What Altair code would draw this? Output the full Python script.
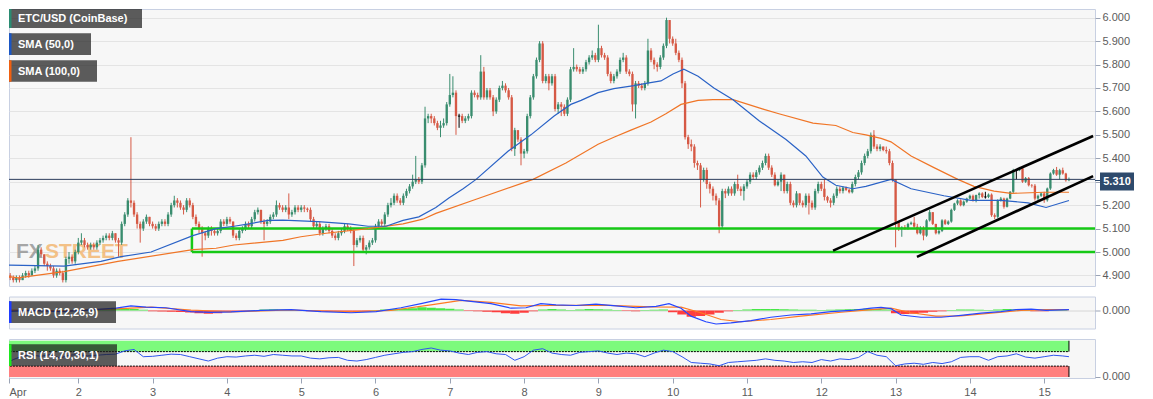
import altair as alt
import pandas as pd

# ---------------------------------------------------------------- data
# hourly ETC/USD candles; hour 0 = 1 Apr 00:00, first candle at 02:00
FIRST_OPEN = 4.90
CLOSE = [
    [4.89,4.88,4.89,4.88,4.90,4.91,4.90,4.92,4.93,5.01,4.99,4.95,4.94,4.93,4.90,4.92,4.91,4.88,4.97,4.98,4.96,5.00],
    [5.04,5.05,5.03,5.02,5.03,5.02,5.04,5.05,5.06,5.07,5.06,5.08,5.05,5.04,5.12,5.16,5.22,5.21,5.16,5.12,5.10,5.13,5.15,5.12],
    [5.11,5.10,5.12,5.13,5.12,5.16,5.20,5.22,5.21,5.19,5.18,5.22,5.20,5.15,5.12,5.10,5.08,5.07,5.10,5.09,5.08,5.09,5.13,5.12],
    [5.14,5.13,5.07,5.06,5.09,5.10,5.12,5.11,5.14,5.17,5.18,5.13,5.12,5.13,5.15,5.16,5.20,5.19,5.18,5.19,5.16,5.17,5.19,5.18],
    [5.19,5.185,5.18,5.14,5.11,5.12,5.08,5.10,5.11,5.09,5.07,5.06,5.08,5.09,5.11,5.10,5.09,5.03,5.05,5.06,5.01,5.02,5.04,5.05],
    [5.11,5.13,5.12,5.16,5.20,5.21,5.24,5.22,5.21,5.24,5.26,5.28,5.30,5.31,5.30,5.37,5.57,5.58,5.57,5.55,5.53,5.54,5.55,5.63],
    [5.67,5.68,5.58,5.58,5.56,5.57,5.58,5.68,5.67,5.66,5.77,5.66,5.69,5.66,5.60,5.65,5.70,5.71,5.69,5.66,5.44,5.52,5.48,5.42],
    [5.43,5.58,5.66,5.75,5.82,5.89,5.73,5.75,5.72,5.75,5.61,5.63,5.62,5.59,5.65,5.78,5.79,5.78,5.77,5.78,5.81,5.83,5.84,5.82],
    [5.87,5.84,5.83,5.76,5.73,5.75,5.77,5.82,5.83,5.77,5.76,5.63,5.72,5.71,5.70,5.72,5.86,5.82,5.80,5.79,5.83,5.88,5.99,5.91],
    [5.89,5.85,5.82,5.72,5.49,5.46,5.45,5.38,5.37,5.31,5.35,5.29,5.27,5.24,5.22,5.11,5.26,5.25,5.27,5.25,5.29,5.27,5.26,5.28],
    [5.30,5.33,5.32,5.34,5.36,5.38,5.41,5.36,5.33,5.285,5.30,5.33,5.26,5.29,5.21,5.20,5.25,5.21,5.20,5.24,5.21,5.19,5.26,5.29],
    [5.27,5.235,5.22,5.21,5.24,5.27,5.26,5.275,5.265,5.255,5.29,5.32,5.34,5.38,5.41,5.43,5.50,5.45,5.44,5.45,5.435,5.43,5.38,5.31],
    [5.13,5.10,5.105,5.10,5.12,5.125,5.108,5.08,5.10,5.07,5.135,5.17,5.12,5.08,5.09,5.135,5.12,5.13,5.18,5.207,5.22,5.20,5.215,5.228],
    [5.24,5.22,5.243,5.25,5.235,5.235,5.245,5.157,5.15,5.221,5.228,5.193,5.228,5.257,5.349,5.349,5.357,5.30,5.315,5.285,5.283,5.228,5.24,5.25],
    [5.221,5.271,5.335,5.35,5.33,5.349,5.335,5.306,5.31],
]
HIGH = [
    [4.91,4.90,4.90,4.90,4.91,4.92,4.92,4.93,4.94,5.03,5.02,4.99,4.96,4.95,4.94,4.93,4.93,4.92,4.98,5.00,4.99,5.01],
    [5.06,5.08,5.06,5.04,5.04,5.04,5.05,5.06,5.07,5.08,5.08,5.09,5.08,5.06,5.13,5.17,5.23,5.49,5.22,5.17,5.13,5.14,5.16,5.15],
    [5.13,5.12,5.13,5.14,5.14,5.17,5.21,5.24,5.23,5.22,5.20,5.23,5.23,5.21,5.16,5.13,5.11,5.09,5.11,5.11,5.10,5.10,5.14,5.14],
    [5.15,5.15,5.13,5.08,5.10,5.11,5.13,5.13,5.15,5.18,5.19,5.18,5.14,5.14,5.16,5.17,5.22,5.21,5.20,5.20,5.25,5.18,5.20,5.20],
    [5.20,5.20,5.19,5.19,5.15,5.13,5.13,5.11,5.12,5.12,5.10,5.08,5.09,5.10,5.12,5.12,5.11,5.10,5.06,5.07,5.07,5.03,5.05,5.06],
    [5.12,5.14,5.14,5.17,5.21,5.23,5.25,5.25,5.23,5.25,5.27,5.29,5.33,5.41,5.32,5.38,5.62,5.59,5.59,5.58,5.56,5.56,5.57,5.64],
    [5.76,5.75,5.69,5.59,5.59,5.58,5.59,5.69,5.69,5.68,5.84,5.79,5.70,5.70,5.67,5.66,5.71,5.73,5.72,5.70,5.67,5.53,5.52,5.49],
    [5.44,5.59,5.67,5.76,5.83,5.90,5.90,5.76,5.76,5.76,5.76,5.64,5.64,5.63,5.66,5.79,5.87,5.80,5.79,5.79,5.82,5.84,5.86,5.85],
    [5.97,5.88,5.85,5.84,5.77,5.76,5.78,5.83,5.85,5.84,5.78,5.77,5.73,5.73,5.72,5.73,5.91,5.87,5.83,5.81,5.84,5.89,6.00,5.99],
    [5.92,5.91,5.86,5.83,5.73,5.50,5.48,5.46,5.39,5.38,5.36,5.36,5.30,5.28,5.25,5.23,5.27,5.27,5.28,5.28,5.30,5.33,5.28,5.29],
    [5.31,5.34,5.34,5.35,5.37,5.39,5.42,5.42,5.37,5.34,5.31,5.34,5.33,5.30,5.30,5.22,5.26,5.25,5.22,5.25,5.25,5.22,5.27,5.30],
    [5.30,5.31,5.24,5.23,5.25,5.28,5.28,5.28,5.28,5.27,5.30,5.33,5.35,5.39,5.42,5.44,5.51,5.52,5.46,5.46,5.45,5.45,5.44,5.39],
    [5.31,5.13,5.11,5.115,5.125,5.13,5.15,5.12,5.11,5.11,5.14,5.18,5.17,5.12,5.10,5.14,5.14,5.135,5.185,5.21,5.225,5.225,5.22,5.232],
    [5.245,5.245,5.245,5.255,5.255,5.257,5.25,5.25,5.165,5.225,5.235,5.232,5.232,5.26,5.355,5.355,5.363,5.36,5.32,5.32,5.29,5.29,5.245,5.255],
    [5.257,5.275,5.34,5.355,5.363,5.355,5.36,5.338,5.318],
]
LOW = [
    [4.88,4.87,4.87,4.87,4.88,4.89,4.89,4.90,4.91,4.92,4.98,4.94,4.92,4.92,4.89,4.89,4.90,4.87,4.87,4.95,4.95,4.95],
    [4.99,5.03,5.02,5.01,5.01,5.01,5.01,5.03,5.04,5.05,5.05,5.05,5.04,4.98,5.03,5.11,5.15,5.19,5.15,5.10,5.04,5.09,5.12,5.11],
    [5.10,5.09,5.09,5.11,5.11,5.11,5.15,5.19,5.19,5.18,5.16,5.17,5.19,5.14,5.11,5.08,4.98,5.05,5.06,5.07,5.07,5.07,5.08,5.11],
    [5.11,5.12,5.06,5.05,5.05,5.08,5.09,5.10,5.10,5.13,5.16,5.12,5.05,5.11,5.12,5.14,5.15,5.18,5.17,5.17,5.14,5.15,5.16,5.17],
    [5.17,5.17,5.17,5.13,5.10,5.10,5.07,5.07,5.09,5.08,5.06,5.05,5.05,5.07,5.08,5.09,5.08,4.94,5.02,5.04,5.00,4.99,5.01,5.03],
    [5.04,5.10,5.11,5.11,5.15,5.19,5.20,5.21,5.20,5.20,5.23,5.25,5.27,5.29,5.29,5.29,5.36,5.55,5.55,5.54,5.52,5.49,5.53,5.54],
    [5.62,5.66,5.50,5.53,5.55,5.55,5.56,5.57,5.66,5.65,5.65,5.65,5.65,5.65,5.58,5.59,5.64,5.69,5.68,5.65,5.43,5.41,5.47,5.37],
    [5.40,5.42,5.57,5.65,5.74,5.81,5.72,5.72,5.69,5.71,5.60,5.59,5.58,5.58,5.58,5.64,5.77,5.77,5.76,5.76,5.77,5.80,5.82,5.81],
    [5.81,5.83,5.82,5.75,5.72,5.72,5.74,5.76,5.81,5.76,5.75,5.60,5.57,5.70,5.69,5.69,5.71,5.81,5.78,5.77,5.78,5.82,5.87,5.89],
    [5.88,5.84,5.81,5.70,5.48,5.44,5.43,5.36,5.35,5.19,5.30,5.27,5.25,5.22,5.20,5.08,5.10,5.23,5.24,5.24,5.24,5.26,5.24,5.22],
    [5.27,5.29,5.31,5.31,5.33,5.35,5.37,5.35,5.32,5.28,5.28,5.26,5.25,5.25,5.20,5.19,5.19,5.20,5.19,5.19,5.16,5.18,5.18,5.25],
    [5.26,5.22,5.21,5.19,5.20,5.23,5.25,5.25,5.26,5.25,5.25,5.28,5.31,5.33,5.37,5.40,5.42,5.44,5.43,5.43,5.43,5.42,5.37,5.30],
    [5.02,5.09,5.065,5.095,5.095,5.115,5.10,5.075,5.075,5.05,5.065,5.13,5.115,5.075,5.075,5.085,5.115,5.115,5.125,5.175,5.20,5.195,5.195,5.21],
    [5.225,5.215,5.212,5.228,5.23,5.228,5.23,5.15,5.14,5.145,5.215,5.185,5.19,5.225,5.25,5.31,5.345,5.295,5.295,5.28,5.275,5.22,5.222,5.235],
    [5.21,5.215,5.265,5.33,5.325,5.31,5.33,5.30,5.302],
]
LAST_PRICE = 5.31

# moving averages (hour, value)
SMA50_H = [-1,19.4,31.3,37.8,47.5,61,68.5,74.3,79.1,85.3,90.1,101.4,111.4,117.6,123.4,128.9,134,139.5,143.7,148.3,152.5,
           162.8,170.2,177.7,183.1,186.4,191.9,197,203.5,207.4,212.2,216.1,219.6,224.2,229.3,235.5,243.9,252.6,259,264.5,
           268.7,274.2,278.4,286.5,293,303.6,312.3,322,330.8,336.6,344]
SMA50_V = [4.945,4.94,4.96,4.98,5.00,5.07,5.10,5.11,5.12,5.135,5.136,5.13,5.12,5.11,5.11,5.135,5.15,5.19,5.23,5.27,5.31,
           5.43,5.50,5.58,5.63,5.647,5.68,5.697,5.71,5.72,5.73,5.76,5.78,5.75,5.70,5.65,5.56,5.48,5.41,5.32,
           5.285,5.27,5.28,5.31,5.27,5.24,5.22,5.22,5.21,5.19,5.22]
SMA100_H = [-1,4.5,19.4,36.8,61,68.5,74.3,90.1,95.9,104,117.6,128.9,135.3,139.5,152.5,170.9,181.5,191.9,197,202.5,209,
            213.8,218.7,224.2,229,235.5,245.2,250.3,261.3,268.7,274.2,278.4,283.3,286.5,293,300.4,308.1,313.3,319.8,325.3,335.9,344]
SMA100_V = [4.90,4.89,4.916,4.96,5.01,5.016,5.03,5.05,5.065,5.08,5.10,5.12,5.14,5.165,5.225,5.31,5.38,5.46,5.49,5.52,5.555,
            5.59,5.63,5.647,5.65,5.65,5.61,5.59,5.55,5.54,5.51,5.50,5.485,5.47,5.41,5.36,5.31,5.28,5.26,5.25,5.255,5.255]

# drawn objects (hour, price)
CHANNEL = [(267.8, 5.006, 351.8, 5.495), (294.9, 4.979, 351.8, 5.324)]
ZONE_LEFT, ZONE_TOP, ZONE_BOTTOM = 60.7, 5.10, 5.00

# MACD (12,26,9)
MACD_H = [-1,8.7,18.4,28.1,36.2,41,45.9,52.3,60.4,66.9,73.3,83,92.7,102.4,112.1,120.2,128.2,134.7,141.2,146,150.8,157.3,
          163.8,168.6,173.4,178.3,184.8,191.2,197.7,204.1,210.6,214.8,218.7,221.9,226.7,230,234.8,241.3,247.7,254.2,260.7,
          267.1,273.6,280.1,283.3,286.5,289.8,296.2,302.7,309.1,315.6,322,326.9,331.8,336.6,344]
MACD_V = [-0.005,0.0,-0.005,0.003,0.01,0.02,0.015,0.012,-0.005,-0.008,-0.006,0.0,0.004,-0.005,-0.01,-0.005,0.012,0.03,0.05,
          0.048,0.04,0.03,0.01,0.012,0.03,0.025,0.022,0.028,0.02,0.012,0.018,0.03,0.01,-0.025,-0.05,-0.06,-0.055,-0.045,-0.03,
          -0.02,-0.015,-0.005,0.0,0.01,0.014,0.008,-0.02,-0.03,-0.03,-0.022,-0.012,-0.005,0.004,0.006,0.0,0.004]
SIGNAL_H = [-1,18.4,37.8,47.5,60.4,73.3,92.7,112.1,125,137.9,147.6,157.3,167,176.7,192.9,209,218.7,225.1,231.6,238,247.7,
            257.4,270.4,280.1,286.5,293,301,309.1,318.8,328.5,336.6,344]
SIGNAL_V = [0.002,-0.002,0.008,0.015,0.002,-0.006,0.002,-0.006,0.0,0.025,0.045,0.036,0.02,0.022,0.024,0.016,0.015,-0.01,
            -0.04,-0.05,-0.04,-0.025,-0.008,0.004,0.01,-0.01,-0.025,-0.024,-0.012,0.0,0.004,0.004]
HIST = [  # every 3 hours from hour 0
    0.002,-0.002,-0.003,0.002,0.003,-0.002,-0.004,0.002,
    0.003,0.002,0.003,0.004,0.006,0.008,0.006,0.003,
    -0.003,-0.005,-0.006,-0.007,-0.009,-0.012,-0.014,-0.012,
    -0.008,-0.005,-0.002,0.002,0.004,0.005,0.004,0.002,
    -0.002,-0.004,-0.005,-0.006,-0.005,-0.006,-0.007,-0.005,
    0.002,0.004,0.006,0.008,0.01,0.014,0.012,0.01,
    0.008,0.004,-0.002,-0.004,-0.006,-0.008,-0.012,-0.014,
    -0.01,-0.004,0.004,0.006,0.004,0.002,0.004,0.006,
    0.005,0.004,0.002,-0.002,-0.003,0.002,0.003,0.004,
    -0.008,-0.018,-0.028,-0.024,-0.018,-0.01,-0.004,0.002,
    0.004,0.006,0.007,0.006,0.005,0.004,0.003,0.003,
    0.002,0.003,0.004,0.005,0.006,0.008,0.006,0.004,
    -0.012,-0.016,-0.014,-0.01,-0.006,-0.003,0.002,0.004,
    0.004,0.003,0.002,0.004,0.006,0.004,0.002,-0.003,
    -0.003,0.002,0.002,
]
# RSI (14) every 3 hours from hour 0
RSI = [
    34,48,58,60,57,62,52,60,
    62,58,60,62,63,72,76,56,
    57,60,63,62,56,50,44,52,
    56,55,58,60,57,62,60,58,
    58,52,50,53,54,46,44,48,
    54,60,64,68,70,76,80,74,
    72,66,62,68,70,64,62,46,
    56,74,78,66,62,60,68,70,
    72,66,62,66,64,56,66,74,
    70,56,40,38,36,31,40,42,
    44,46,50,46,44,40,42,40,
    48,44,50,48,54,70,60,56,
    31,36,38,35,40,37,42,54,
    56,56,46,56,58,64,55,52,
    56,60,58,
]
RSI_LAST = 56

# ---------------------------------------------------------------- styling
FONT = "Liberation Sans, Arial, Helvetica, sans-serif"
GREEN, RED = "#3a8d6f", "#d65a46"
W = 1086
XS = alt.Scale(domain=[1.615, 352.41], nice=False, zero=False)
YS = alt.Scale(domain=[4.8549, 6.0371], nice=False, zero=False)
YAX = alt.Axis(orient="right", values=[round(4.9 + 0.1 * i, 1) for i in range(12)], format=".3f",
               grid=True, gridColor="#e4e4e4", title=None)

rows = []
prev = FIRST_OPEN
for d in range(15):
    start = 2 if d == 0 else 0
    for j, (c, hi, lo) in enumerate(zip(CLOSE[d], HIGH[d], LOW[d])):
        h = d * 24 + start + j
        o = prev
        col = GREEN if c > o else (RED if c < o else "#000000")
        rows.append(dict(h=h, x1=h - 0.38, x2=h + 0.38, o=o, c=c,
                         hi=max(hi, o, c), lo=min(lo, o, c), col=col, flat=(c == o)))
        prev = c
candles = pd.DataFrame(rows)

base = alt.Chart(candles)
wicks = base.mark_rule(strokeWidth=1, clip=True).encode(
    x=alt.X("h:Q", scale=XS, axis=None),
    y=alt.Y("lo:Q", scale=YS, axis=YAX), y2="hi:Q",
    color=alt.Color("col:N", scale=None))
bodies = base.mark_rect(clip=True).encode(
    x=alt.X("x1:Q", scale=XS, axis=None), x2="x2:Q",
    y=alt.Y("o:Q", scale=YS, axis=YAX), y2="c:Q",
    color=alt.Color("col:N", scale=None))
dojis = base.transform_filter("datum.flat").mark_rule(color="black", strokeWidth=1, clip=True).encode(
    x=alt.X("x1:Q", scale=XS, axis=None), x2="x2:Q", y=alt.Y("c:Q", scale=YS, axis=YAX))

sma50 = alt.Chart(pd.DataFrame({"h": SMA50_H, "v": SMA50_V})).mark_line(
    color="#2a62c6", strokeWidth=1.2, clip=True).encode(
    x=alt.X("h:Q", scale=XS, axis=None), y=alt.Y("v:Q", scale=YS, axis=YAX))
sma100 = alt.Chart(pd.DataFrame({"h": SMA100_H, "v": SMA100_V})).mark_line(
    color="#f07526", strokeWidth=1.2, clip=True).encode(
    x=alt.X("h:Q", scale=XS, axis=None), y=alt.Y("v:Q", scale=YS, axis=YAX))

zone = pd.DataFrame({"x1": [ZONE_LEFT, ZONE_LEFT, ZONE_LEFT], "x2": [400, 400, ZONE_LEFT],
                     "y1": [ZONE_TOP, ZONE_BOTTOM, ZONE_BOTTOM], "y2": [ZONE_TOP, ZONE_BOTTOM, ZONE_TOP]})
zone_l = alt.Chart(zone).mark_rule(color="#16c916", strokeWidth=2.5, clip=True).encode(
    x=alt.X("x1:Q", scale=XS, axis=None), x2="x2:Q",
    y=alt.Y("y1:Q", scale=YS, axis=YAX), y2="y2:Q")

chan = pd.DataFrame(CHANNEL, columns=["x1", "y1", "x2", "y2"])
chan_l = alt.Chart(chan).mark_rule(color="black", strokeWidth=2.6, clip=True).encode(
    x=alt.X("x1:Q", scale=XS, axis=None), x2="x2:Q",
    y=alt.Y("y1:Q", scale=YS, axis=YAX), y2="y2:Q")

price_line = alt.Chart(pd.DataFrame({"p": [LAST_PRICE]})).mark_rule(color="#2b3d5c", strokeWidth=1).encode(
    y=alt.Y("p:Q", scale=YS, axis=YAX))

one = pd.DataFrame({"t": ["5.310"]})
tag_rect = alt.Chart(one).mark_rect(fill="#2e4a6c").encode(
    x=alt.value(W + 5), x2=alt.value(W + 39), y=alt.value(163.5), y2=alt.value(181.5))
tag_link = alt.Chart(one).mark_rule(color="#2e4a6c").encode(
    x=alt.value(W), x2=alt.value(W + 5), y=alt.value(171.5))
tag_text = alt.Chart(one).mark_text(color="white", fontSize=11, fontWeight="bold", font=FONT,
                                    align="center", baseline="middle").encode(
    x=alt.value(W + 22), y=alt.value(172.5), text="t:N")

WM_FONT = "Liberation Sans, Arial, sans-serif"
wm_fx = alt.Chart(pd.DataFrame({"t": ["FX"]})).mark_text(
    font=WM_FONT, fontSize=21, fontWeight="bold",
    color="#8c8c8c", opacity=0.75, align="left", baseline="alphabetic").encode(
    x=alt.value(7), y=alt.value(249), text="t:N")
wm_st = alt.Chart(pd.DataFrame({"t": ["STREET"]})).mark_text(
    font=WM_FONT, fontSize=21, fontWeight="bold",
    color="#f3b46c", opacity=0.8, align="left", baseline="alphabetic").encode(
    x=alt.value(36), y=alt.value(249), text="t:N")


def label_box(text, stripe, width, y1, y2):
    b = alt.Chart(pd.DataFrame({"t": [text]}))
    box = b.mark_rect(fill="#1e1e1e", opacity=0.72).encode(
        x=alt.value(0), x2=alt.value(width), y=alt.value(y1), y2=alt.value(y2))
    st = b.mark_rect(fill=stripe).encode(
        x=alt.value(0), x2=alt.value(2.5), y=alt.value(y1), y2=alt.value(y2))
    tx = b.mark_text(align="left", baseline="middle", color="white", fontSize=11,
                     fontWeight="bold", font=FONT).encode(
        x=alt.value(9), y=alt.value((y1 + y2) / 2 + 0.5), text="t:N")
    return box + st + tx


main = alt.layer(
    wm_fx, wm_st, bodies, wicks, dojis, zone_l, sma100, sma50, price_line, chan_l,
    label_box("ETC/USD (CoinBase)", "#2a8c72", 133, 0, 19),
    label_box("SMA (50,0)", "#1a56c4", 82, 24.3, 46),
    label_box("SMA (100,0)", "#f06010", 88, 51.3, 72.7),
    tag_rect, tag_link, tag_text,
).properties(width=W, height=277)

# ---------------------------------------------------------------- MACD panel
MS = alt.Scale(domain=[-0.08, 0.062], nice=False, zero=False)
MAX = alt.Axis(orient="right", values=[0], format=".3f", grid=True, gridColor="#d6d6d6", title=None)
hist_df = pd.DataFrame({"h": [3 * i for i in range(len(HIST))], "v": HIST})
hist_df["x1"] = hist_df["h"] - 1.5
hist_df["x2"] = hist_df["h"] + 1.5
hist_df["z"] = 0.0
hist_df["col"] = ["#33e433" if v >= 0 else "#ff2a2a" for v in HIST]
hist = alt.Chart(hist_df).mark_rect(clip=True, opacity=0.9).encode(
    x=alt.X("x1:Q", scale=XS, axis=None), x2="x2:Q",
    y=alt.Y("z:Q", scale=MS, axis=MAX), y2="v:Q",
    color=alt.Color("col:N", scale=None))
macd_l = alt.Chart(pd.DataFrame({"h": MACD_H, "v": MACD_V})).mark_line(
    color="#2546ff", strokeWidth=1.2, clip=True).encode(
    x=alt.X("h:Q", scale=XS, axis=None), y=alt.Y("v:Q", scale=MS, axis=MAX))
sig_l = alt.Chart(pd.DataFrame({"h": SIGNAL_H, "v": SIGNAL_V})).mark_line(
    color="#ff7a22", strokeWidth=1.2, clip=True).encode(
    x=alt.X("h:Q", scale=XS, axis=None), y=alt.Y("v:Q", scale=MS, axis=MAX))
macd = alt.layer(hist, sig_l, macd_l, label_box("MACD (12,26,9)", "#1f3cff", 107, 4.8, 26.5)
                 ).properties(width=W, height=32)

# ---------------------------------------------------------------- RSI panel
RS = alt.Scale(domain=[-2.8, 104.8], nice=False, zero=False)
XAX = alt.Axis(values=[1.62] + [24 * k for k in range(1, 15)],
               labelExpr="datum.value < 12 ? 'Apr' : format(datum.value / 24 + 1, 'd')",
               labelFlush=True, grid=False, title=None, tickSize=5, labelPadding=3)
RAX = alt.Axis(orient="right", values=[0], labelExpr="'0.000'", grid=False, title=None)
bands = pd.DataFrame({"x1": [-1, -1], "x2": [344, 344], "lo": [70, 0], "hi": [100, 30],
                      "col": ["#7dfa7d", "#ff7f7f"]})
band = alt.Chart(bands).mark_rect(clip=True).encode(
    x=alt.X("x1:Q", scale=XS, axis=XAX), x2="x2:Q",
    y=alt.Y("lo:Q", scale=RS, axis=RAX), y2="hi:Q",
    color=alt.Color("col:N", scale=None))
dash = alt.Chart(pd.DataFrame({"x1": [-1, -1], "x2": [344, 344], "y": [70, 30]})).mark_rule(
    color="black", strokeWidth=1, strokeDash=[2, 1], clip=True).encode(
    x=alt.X("x1:Q", scale=XS, axis=XAX), x2="x2:Q", y=alt.Y("y:Q", scale=RS, axis=RAX))
edge = alt.Chart(bands).mark_rule(color="black", strokeWidth=1, clip=True).encode(
    x=alt.X("x2:Q", scale=XS, axis=XAX), y=alt.Y("lo:Q", scale=RS, axis=RAX), y2="hi:Q")
rsi_df = pd.DataFrame({"h": [3 * i for i in range(len(RSI))] + [344], "v": RSI + [RSI_LAST]})
rsi_l = alt.Chart(rsi_df).mark_line(color="#2f56ee", strokeWidth=1, clip=True).encode(
    x=alt.X("h:Q", scale=XS, axis=XAX), y=alt.Y("v:Q", scale=RS, axis=RAX))
rsi = alt.layer(band, dash, edge, rsi_l, label_box("RSI (14,70,30,1)", "#1ee81e", 108, 5.3, 27)
                ).properties(width=W, height=39)

chart = alt.vconcat(main, macd, rsi, spacing=8.5).properties(
    padding={"left": 0, "top": 0, "right": 0, "bottom": 0}
).configure_view(stroke="#c8d0e2", fill="#f7f7f7").configure_axis(
    labelFont=FONT, labelFontSize=11, labelColor="#5c5c5c", tickColor="#9aa3b5",
    domain=False, tickSize=5, labelPadding=2)

chart.save("out.html", embed_options={"renderer": "svg", "actions": False})
